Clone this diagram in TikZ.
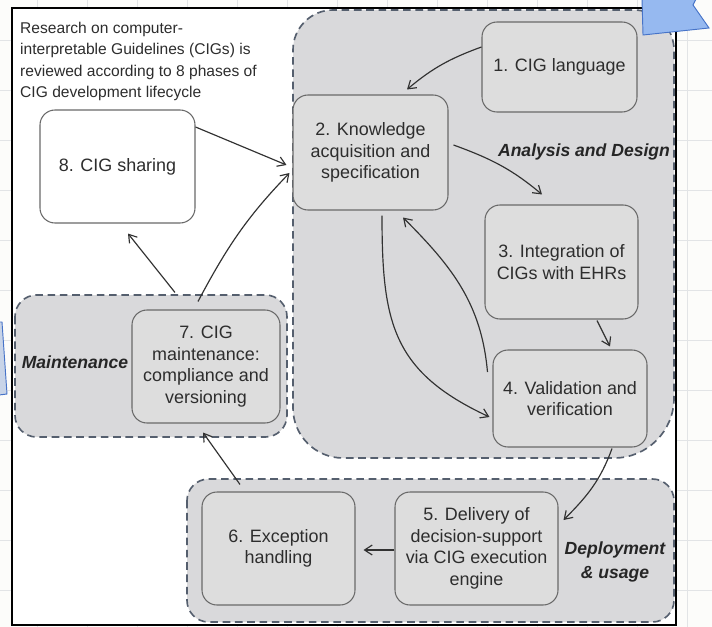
\documentclass[tikz,border=0pt]{standalone}
\usepackage{fontspec}
\setmainfont{Liberation Sans}
\usetikzlibrary{arrows.meta}

\definecolor{paper}{RGB}{252,252,250}
\definecolor{gridgray}{RGB}{226,228,230}
\definecolor{regionfill}{RGB}{217,217,219}
\definecolor{regionline}{RGB}{85,95,110}
\definecolor{boxfill}{RGB}{221,221,221}
\definecolor{boxline}{RGB}{105,105,105}
\definecolor{inkgray}{RGB}{45,45,45}
\definecolor{arrowgray}{RGB}{50,50,50}
\definecolor{calloutblue}{RGB}{150,185,240}
\definecolor{calloutpale}{RGB}{200,212,232}
\definecolor{calloutedge}{RGB}{70,115,200}

\begin{document}
\begin{tikzpicture}[x=0.03cm, y=0.03cm,
    phase/.style={draw=boxline, fill=boxfill, rounded corners=0.45cm, line width=0.9pt,
                  align=center, text=inkgray, inner sep=0pt,
                  font=\fontsize{15.3}{18.4}\selectfont},
    region/.style={draw=regionline, fill=regionfill, line width=1.4pt,
                   dash pattern=on 6.5pt off 4pt},
    phaselabel/.style={font=\fontsize{15}{21}\selectfont\bfseries\itshape,
                       text=black!85, align=center, inner sep=0pt},
    flow/.style={draw=arrowgray, line width=1pt,
                 -{Straight Barb[length=6.5pt,width=8.5pt]}},
    gridline/.style={draw=gridgray, line width=0.6pt}]

% --- Sheet background and frame ---
\useasboundingbox (0,0) rectangle (712,-627);
\fill[paper] (0,0) rectangle (712,-627);
\foreach \gx in {37,87,...,687} \draw[gridline] (\gx,0) -- (\gx,-627);
\foreach \gy in {40,90,...,590} \draw[gridline] (0,-\gy) -- (712,-\gy);
\draw[fill=white, line width=2pt] (12,-8) rectangle (676,-625);

% --- Lifecycle regions ---
\path[region] (293,-250) [rounded corners=1.2cm] -- (293,-10) -- (674,-10) -- (674,-250)
      [rounded corners=1.8cm] -- (674,-458) -- (480,-458)
      [rounded corners=1.5cm] -- (293,-458) -- cycle;
\path[region, rounded corners=0.65cm] (15,-295) rectangle (287,-437);
\path[region, rounded corners=0.65cm] (187,-479) rectangle (674,-622);

\node[phaselabel] (adl) at (584,-152) {Analysis and Design};
\node[phaselabel] (mtl) at (75,-362) {Maintenance};
\node[phaselabel] (dul) at (615,-562) {Deployment\\\& usage};

% --- Caption ---
\node[anchor=north west, align=left, inner sep=0pt, text=inkgray,
      font=\fontsize{13.3}{18.2}\selectfont] (note) at (20,-22)
     {Research on computer-\\interpretable Guidelines (CIGs) is\\reviewed according to 8 phases of\\CIG development lifecycle};

% --- Phases ---
\foreach \n/\cx/\cy/\w/\h/\bg/\txt in {
    1/559.5/67/155/90/boxfill/{1. CIG language},
    2/370.5/152.5/155/115/boxfill/{2. Knowledge\\acquisition and\\specification},
    3/561.5/262/153/114/boxfill/{3. Integration of\\CIGs with EHRs},
    4/570/398.5/154/97/boxfill/{4. Validation and\\verification},
    5/476.5/548.5/163/113/boxfill/{5. Delivery of\\decision-support\\via CIG execution\\engine},
    6/278.5/548.5/153/113/boxfill/{6. Exception\\handling},
    7/206/366.5/148/113/boxfill/{7. CIG\\maintenance:\\compliance and\\versioning},
    8/117.5/166.5/155/113/white/{8. CIG sharing}} {
    \node[phase, fill=\bg, minimum width=\w*0.03cm, minimum height=\h*0.03cm] (c\n) at (\cx,-\cy) {\txt};
}

% --- Flow ---
\draw[flow] ([shift={(0,20)}]c1.west) to[out=200, in=40] ([shift={(36.5,5)}]c2.north);
\draw[flow] ([shift={(5,7.5)}]c2.east) to[out=-20, in=140] ([shift={(-19.5,10)}]c3.north);
\draw[flow] ([shift={(35.5,-1)}]c3.south) -- ([shift={(40,3)}]c4.north);
\draw[flow] ([shift={(11.5,-5)}]c2.south) to[out=-90, in=155, looseness=1.2] ([shift={(-3,-18.5)}]c4.west);
\draw[flow] ([shift={(-5,26.5)}]c4.west) to[out=95, in=-45] ([shift={(32.5,-7)}]c2.south);
\draw[flow] ([shift={(42,-1)}]c4.south) to[out=-110, in=45] ([shift={(5,28.5)}]c5.east);
\draw[flow] ([shift={(0,-1.5)}]c5.west) -- ([shift={(8,-1.5)}]c6.east);
\draw[flow] ([shift={(-38.5,7)}]c6.north) -- ([shift={(-3,-9)}]c7.south);
\draw[flow] ([shift={(-31,17)}]c7.north) -- ([shift={(10.5,-10)}]c8.south);
\draw[flow] ([shift={(-8,8)}]c7.north) to[out=62, in=-134] ([shift={(-3,-20.5)}]c2.west);
\draw[flow] ([shift={(0,39.5)}]c8.east) -- ([shift={(-6,-12.5)}]c2.west);

% --- Callout edges ---
\filldraw[fill=calloutblue, draw=calloutedge, line width=0.8pt]
    (642,1) -- (643,-35) -- (709,-28) -- (693,-5) -- (696,1) -- cycle;
\filldraw[fill=calloutpale, draw=calloutedge, line width=0.8pt]
    (-1,-322) -- (2,-322) -- (7,-394) -- (-1,-395) -- cycle;

\end{tikzpicture}
\end{document}
